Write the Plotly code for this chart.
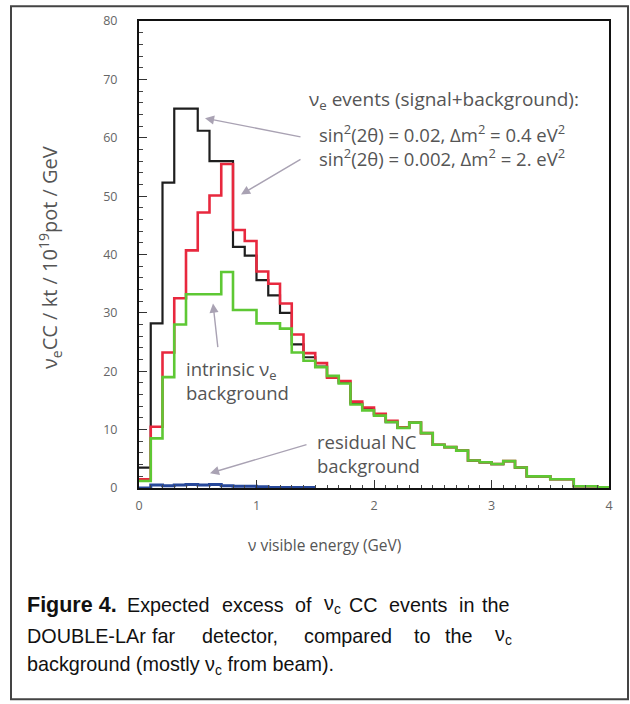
import numpy as np
import plotly.graph_objects as go

# ---- data (10 bins per GeV, 0-4 GeV) ----
bin_width = 0.1
signal_bg_1 = [3.5, 28.2, 52.3, 65.0, 65.0, 61.2, 56.0, 56.0, 41.3, 39.8,
               35.6, 33.0, 30.0, 24.6, 22.4, 20.8, 19.0, 18.0, 14.5, 13.5,
               12.5, 11.3, 10.3, 11.2, 9.4, 7.4, 7.0, 6.4, 4.7, 4.4,
               4.1, 4.6, 3.5, 2.0, 2.0, 1.5, 1.5, 0.3, 0.3, 0.1]
signal_bg_2 = [1.5, 10.5, 23.2, 32.5, 40.7, 47.2, 50.1, 55.5, 44.2, 42.3,
               37.1, 35.0, 31.6, 26.3, 23.1, 21.4, 18.9, 18.3, 14.8, 13.8,
               12.7, 11.5, 10.4, 11.2, 9.4, 7.4, 7.0, 6.4, 4.7, 4.4,
               4.1, 4.6, 3.5, 2.0, 2.0, 1.5, 1.5, 0.3, 0.3, 0.1]
intrinsic_bg = [1.2, 8.5, 19.0, 28.0, 33.2, 33.2, 33.2, 37.0, 30.5, 30.5,
                28.2, 28.2, 27.3, 23.2, 21.8, 20.7, 19.2, 17.9, 14.3, 13.3,
                12.4, 11.3, 10.3, 11.2, 9.4, 7.4, 7.0, 6.4, 4.7, 4.4,
                4.1, 4.6, 3.5, 2.0, 2.0, 1.5, 1.5, 0.3, 0.3, 0.1]
residual_nc = [0.0, 0.5, 0.4, 0.5, 0.6, 0.5, 0.6, 0.4, 0.3, 0.3,
               0.2, 0.1, 0.1, 0.1, 0.1]
y_ticks = [0, 10, 20, 30, 40, 50, 60, 70, 80]
x_ticks = [0, 1, 2, 3, 4]

W, H = 630, 704
ML, MR, MT, MB = 139, 21, 17, 216
PW, PH = W - ML - MR, H - MT - MB


def px(x):
    return (x - ML) / PW


def py(y):
    return (H - MB - y) / PH


def steps(vals):
    edges = [round(i * bin_width, 3) for i in range(len(vals) + 1)]
    return edges, list(vals) + [vals[-1]]


fig = go.Figure()
for vals, color, width in [(signal_bg_1, "#1e1e1e", 2.2),
                           (signal_bg_2, "#e8283e", 2.6),
                           (intrinsic_bg, "#5ec834", 2.6),
                           (residual_nc, "#27489a", 3)]:
    xs, ys = steps(vals)
    fig.add_trace(go.Scatter(x=xs, y=ys, mode="lines",
                             line=dict(color=color, width=width, shape="hv"),
                             hoverinfo="skip"))

tf = "Open Sans"
axis_common = dict(showline=True, linecolor="#111", linewidth=2, mirror=True,
                   ticks="inside", tickcolor="#333", showgrid=False, zeroline=False,
                   tickfont=dict(family=tf, size=12.5, color="#666"))
fig.update_xaxes(range=[0, 4], tickvals=x_ticks, ticklen=8, tickwidth=1.2,
                 minor=dict(dtick=0.1, ticklen=3, ticks="inside", tickcolor="#444"),
                 ticklabelstandoff=5, **axis_common)
fig.update_yaxes(range=[0, 80], tickvals=y_ticks, ticklen=8, tickwidth=1.2,
                 minor=dict(dtick=2, ticklen=4, ticks="inside", tickcolor="#444"),
                 ticklabelstandoff=17, **axis_common)

txt = "#555"
anns = []


def ann(text, x, y, size=18.5, color=txt, xanchor="left", family=tf, **kw):
    anns.append(dict(text=text, x=px(x), y=py(y), xref="paper", yref="paper",
                     xanchor=xanchor, yanchor="middle", showarrow=False, align="left",
                     font=dict(family=family, size=size, color=color), **kw))


def arrow(hx, hy, tx, ty):
    anns.append(dict(text="", x=px(hx), y=py(hy), xref="paper", yref="paper",
                     ax=tx - hx, ay=ty - hy, showarrow=True, arrowhead=2,
                     arrowsize=1.3, arrowwidth=1.4, arrowcolor="#a9a2b3"))


ann("ν<sub>e</sub> events (signal+background):", 307, 97, size=19)
ann("sin<sup>2</sup>(2θ) = 0.02, Δm<sup>2</sup> = 0.4 eV<sup>2</sup><br>"
    "sin<sup>2</sup>(2θ) = 0.002, Δm<sup>2</sup> = 2. eV<sup>2</sup>", 317, 143)
ann("intrinsic ν<sub>e</sub><br>background", 184, 380)
ann("residual NC<br>background", 315, 453)
arrow(205, 115, 302, 134)
arrow(241, 192, 302, 156)
arrow(213, 302, 218, 347)
arrow(210, 473, 308, 444)
ann("ν<sub>e</sub>CC / kt / 10<sup>19</sup>pot / GeV", 50, 256, size=20,
    xanchor="center", textangle=-90)
ann("ν visible energy (GeV)", 324, 545, size=15.5, xanchor="center")

# caption (justified lines emulated by word placement)
cap = "Liberation Sans"
cs = 19.8
line1 = [("<b>Figure 4.</b>", 25), ("Expected", 125), ("excess", 220), ("of", 293),
         ("ν<sub>c</sub>", 322), ("CC", 347), ("events", 387), ("in", 457), ("the", 480)]
line2 = [("DOUBLE-LAr", 25), ("far", 150), ("detector,", 200), ("compared", 302),
         ("to", 412), ("the", 443), ("ν<sub>c</sub>", 493)]
for w, x in line1:
    ann(w, x, 606, size=(21.5 if "Figure" in w else cs), color="#111", family=cap)
for w, x in line2:
    ann(w, x, 637, size=cs, color="#111", family=cap)
ann("background (mostly ν<sub>c</sub> from beam).", 25, 667, size=cs, color="#111", family=cap)

fig.update_layout(
    width=W, height=H, margin=dict(l=ML, r=MR, t=MT, b=MB),
    paper_bgcolor="white", plot_bgcolor="white", showlegend=False,
    annotations=anns,
    shapes=[dict(type="rect", xref="paper", yref="paper",
                 x0=px(11), x1=px(628), y0=py(701), y1=py(2),
                 line=dict(color="#444", width=2), layer="below")],
)
fig.write_html("out.html", config={"displayModeBar": False},
               post_script="document.body.style.margin='0';document.body.style.overflow='hidden';")
